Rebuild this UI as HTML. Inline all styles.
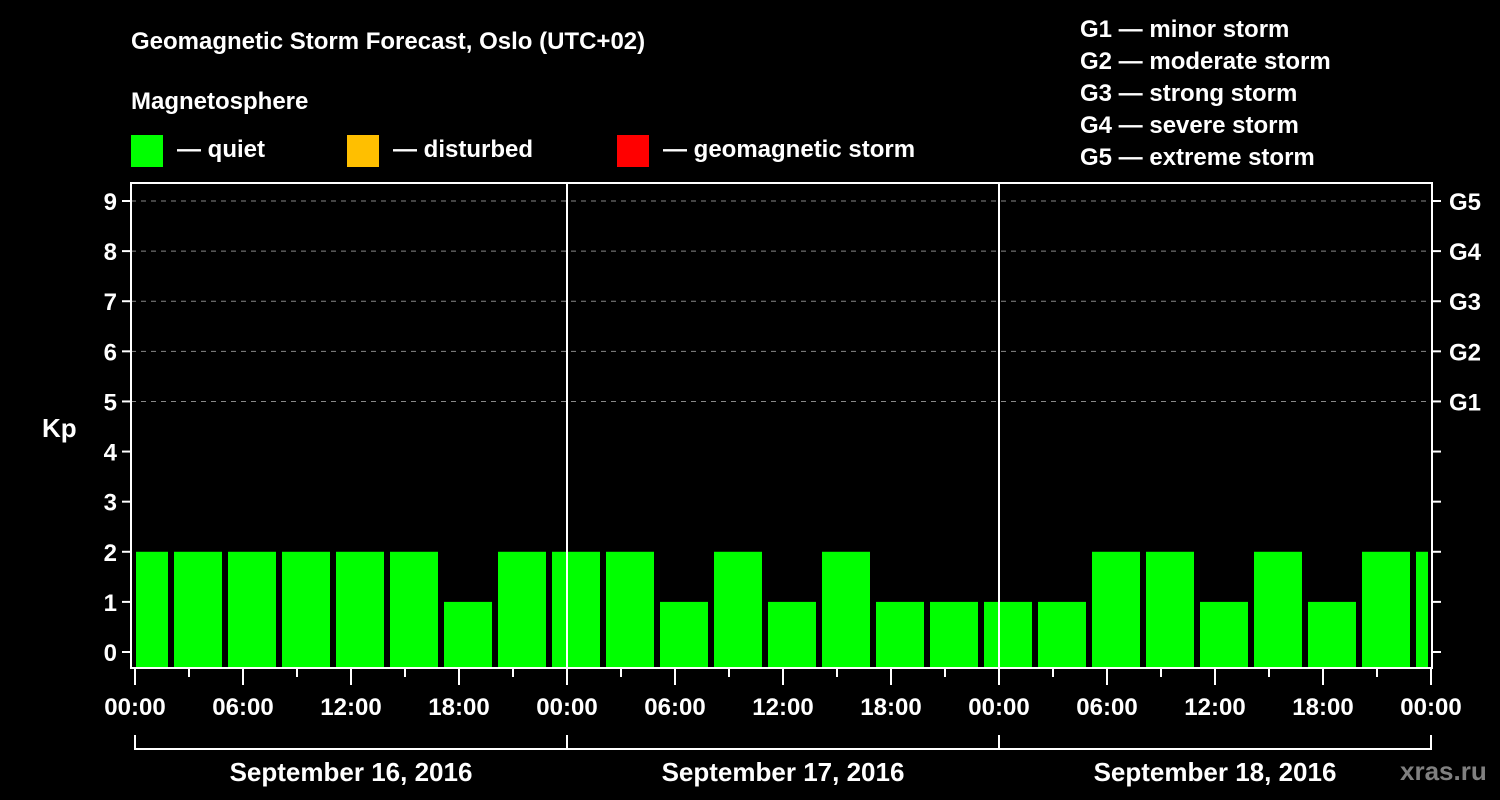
<!DOCTYPE html>
<html><head><meta charset="utf-8"><style>
html,body{margin:0;padding:0;background:#000;}
svg{display:block;font-family:"Liberation Sans",Arial,sans-serif;font-weight:bold;}
</style></head><body>
<svg id="c" width="1500" height="800" viewBox="0 0 1500 800">
<rect width="1500" height="800" fill="#000"/>
<g fill="#fff" font-size="24">
<text x="131" y="49">Geomagnetic Storm Forecast, Oslo (UTC+02)</text>
<text x="131" y="109">Magnetosphere</text>
<g><rect x="131" y="135" width="32" height="32" fill="#00ff00"/><text x="177" y="157">— quiet</text></g>
<g><rect x="347" y="135" width="32" height="32" fill="#ffbf00"/><text x="393" y="157">— disturbed</text></g>
<g><rect x="617" y="135" width="32" height="32" fill="#ff0000"/><text x="663" y="157">— geomagnetic storm</text></g>
<text x="1080" y="37">G1 — minor storm</text>
<text x="1080" y="69">G2 — moderate storm</text>
<text x="1080" y="101">G3 — strong storm</text>
<text x="1080" y="133">G4 — severe storm</text>
<text x="1080" y="165">G5 — extreme storm</text>
<text x="42" y="437" font-size="26">Kp</text>
</g>
<text x="1400" y="780" fill="#808080" font-size="26">xras.ru</text>
<g id="plot"></g>
</svg>
<script>
const kpValues=[2,2,2,2,2,2,1,2,2,2,1,2,1,2,1,1,1,1,2,2,1,2,1,2,2];
const binStartHours=[0,2,5,8,11,14,17,20,23,26,29,32,35,38,41,44,47,50,53,56,59,62,65,68,71];
const yTicks=[0,1,2,3,4,5,6,7,8,9];
const gLabels=["G1","G2","G3","G4","G5"];
const gLevels=[5,6,7,8,9];
const xTickLabels=["00:00","06:00","12:00","18:00","00:00","06:00","12:00","18:00","00:00","06:00","12:00","18:00","00:00"];
const dayLabels=["September 16, 2016","September 17, 2016","September 18, 2016"];
const totalHours=72;
const NS="http://www.w3.org/2000/svg";
const g=document.getElementById('plot');
const X0=135,X1=1431,L=131,R=1432,T=183,B=668;
const xs=h=>X0+(X1-X0)*h/totalHours;
const ys=v=>652-v*(652-201)/9;
function mk(tag,at,parent){const e=document.createElementNS(NS,tag);for(const k in at)e.setAttribute(k,at[k]);(parent||g).appendChild(e);return e;}
// grid
yTicks.forEach(v=>{
  if(v>=5){const l=mk('line',{x1:L,x2:R,y1:ys(v),y2:ys(v),stroke:'#888','stroke-dasharray':'5,5','stroke-width':1});
  
  }
  const t=mk('line',{x1:L-9,x2:L,y1:ys(v),y2:ys(v),stroke:'#fff','stroke-width':2});
  
  
  const t2=mk('line',{x1:R,x2:R+9,y1:ys(v),y2:ys(v),stroke:'#fff','stroke-width':2});
  
  
  const tx=mk('text',{x:L-14,y:ys(v)+9,fill:'#fff','font-size':24,'text-anchor':'end'});
  tx.textContent=v;
  
  
});
gLabels.forEach((s,i)=>{
  const tx=mk('text',{x:R+17,y:ys(gLevels[i])+9,fill:'#fff','font-size':24});
  tx.textContent=s;
  
  
});
// bars
kpValues.forEach((v,i)=>{
  const h0=binStartHours[i];
  const h1=i+1<binStartHours.length?binStartHours[i+1]:totalHours;
  const x0=xs(h0)+(h0===0?1:3), x1=xs(h1)-3;
  const col=v>=5?'#ff0000':(v>=4?'#ffbf00':'#00ff00');
  const r=mk('rect',{x:x0,y:ys(v),width:x1-x0,height:B-1-ys(v),fill:col});
  
  
});
// day separators
[1,2].forEach(d=>{
  const l=mk('line',{x1:xs(d*24),x2:xs(d*24),y1:T,y2:B,stroke:'#fff','stroke-width':2});
  
  
});
const fr=mk('rect',{x:L,y:T,width:R-L,height:B-T,fill:'none',stroke:'#fff','stroke-width':2});


// x ticks
for(let h=0;h<=totalHours;h+=3){
  const major=h%6===0;
  const t=mk('line',{x1:xs(h),x2:xs(h),y1:B+1,y2:major?B+17:B+9,stroke:'#fff','stroke-width':2});
  
  
}
xTickLabels.forEach((s,i)=>{
  const tx=mk('text',{x:xs(i*6),y:715,fill:'#fff','font-size':24,'text-anchor':'middle'});
  tx.textContent=s;
  
  
});
// day bracket
const bl=mk('line',{x1:xs(0),x2:xs(totalHours),y1:749,y2:749,stroke:'#fff','stroke-width':2});


for(let d=0;d<=3;d++){
  const l=mk('line',{x1:xs(d*24),x2:xs(d*24),y1:735,y2:750,stroke:'#fff','stroke-width':2});
  
  
}
dayLabels.forEach((s,i)=>{
  const tx=mk('text',{x:xs(i*24+12),y:781,fill:'#fff','font-size':26,'text-anchor':'middle'});
  tx.textContent=s;
  
  
});
</script>
</body></html>
